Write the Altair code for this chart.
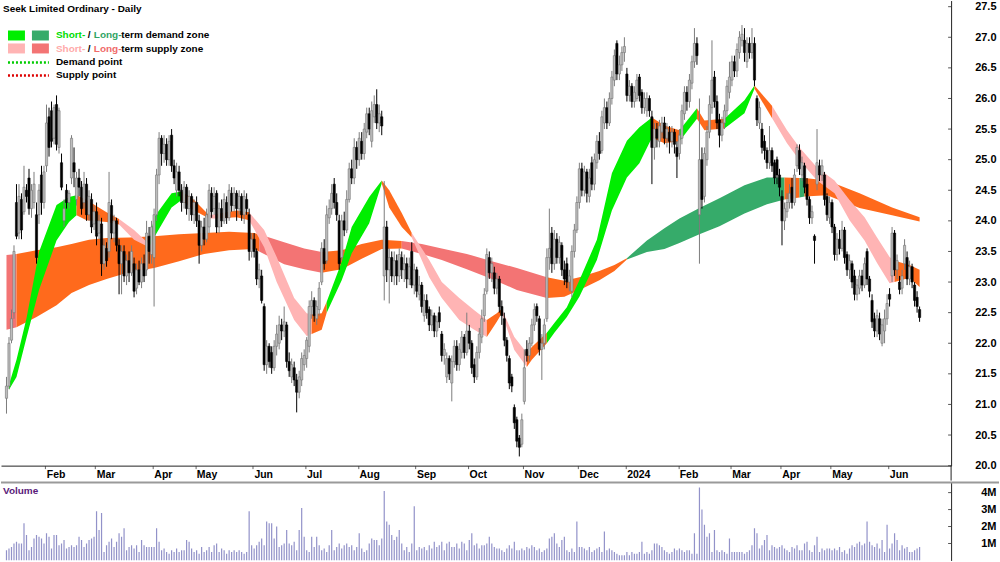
import altair as alt
import pandas as pd

# ---------------- daily candles (trading-day index 0..365, Jan 2023 - Jun 2024) ----------------
opens = [
    21.10, 21.30, 22.05, 22.50, 24.30, 23.80, 24.35, 24.15, 24.50, 24.70,
    24.20, 24.30, 24.10, 24.10, 24.75, 24.30, 24.90, 25.70, 25.80, 25.35,
    25.90, 25.20, 24.95, 24.00, 24.50, 24.30, 24.70, 24.95, 24.35, 24.70,
    24.55, 24.30, 24.60, 24.10, 24.35, 23.95, 24.15, 23.80, 23.95, 23.30,
    23.55, 23.50, 24.25, 23.80, 24.00, 23.60, 23.30, 23.50, 23.10, 23.35,
    23.15, 23.30, 22.90, 23.20, 23.00, 23.30, 23.20, 23.75, 23.45, 23.40,
    24.10, 24.75, 25.35, 25.10, 25.25, 25.00, 25.40, 24.90, 24.50, 24.80,
    24.50, 24.30, 24.55, 24.20, 24.40, 24.10, 24.30, 24.00, 23.60, 23.90,
    23.70, 23.90, 24.45, 24.20, 24.45, 23.90, 24.20, 24.00, 24.30, 24.05,
    24.45, 24.25, 24.45, 24.20, 24.40, 24.10, 24.35, 24.10, 23.50, 23.70,
    23.50, 23.05, 23.10, 22.60, 21.65, 21.95, 21.85, 21.60, 21.95, 22.00,
    22.30, 22.20, 22.30, 21.70, 21.45, 21.60, 21.40, 21.20, 21.40, 21.65,
    21.75, 21.95, 22.60, 22.70, 22.40, 22.55, 23.00, 23.55, 23.35, 24.05,
    24.20, 24.60, 24.30, 24.00, 23.40, 24.00, 23.85, 24.35, 24.85, 24.70,
    25.20, 25.00, 25.30, 25.10, 25.45, 25.75, 25.30, 25.70, 25.90, 25.60,
    25.70, 23.10, 23.90, 23.20, 23.40, 23.10, 23.35, 23.10, 23.40, 23.20,
    23.30, 23.05, 23.50, 22.95, 23.20, 22.80, 22.95, 22.45, 22.70, 22.55,
    22.30, 22.45, 22.20, 22.50, 22.15, 21.80, 21.45, 21.75, 21.35, 21.70,
    21.95, 21.65, 21.85, 22.10, 21.85, 22.20, 22.00, 21.65, 21.45, 21.85,
    22.10, 22.45, 22.85, 23.40, 23.15, 23.15, 22.90, 23.05, 22.60, 22.40,
    22.05, 21.75, 21.45, 20.95, 20.75, 20.45, 20.35, 21.05, 21.90, 21.80,
    22.00, 22.30, 22.60, 22.40, 21.90, 22.00, 22.40, 23.40, 23.80, 23.30,
    23.70, 23.40, 23.60, 23.20, 23.30, 23.00, 22.85, 23.50, 23.85, 24.30,
    24.85, 24.50, 24.80, 24.40, 24.95, 24.60, 24.95, 25.30, 25.15, 25.60,
    25.85, 25.60, 26.00, 26.30, 26.90, 26.40, 26.55, 26.75, 26.40, 26.05,
    26.20, 25.95, 26.00, 26.35, 26.10, 25.85, 25.80, 26.00, 25.70, 25.20,
    25.50, 25.30, 25.45, 25.60, 25.35, 25.45, 25.30, 25.45, 25.20, 25.10,
    25.35, 25.75, 26.10, 25.95, 26.25, 26.60, 26.90, 24.10, 25.00, 24.40,
    25.00, 25.45, 25.85, 26.35, 25.95, 25.65, 25.40, 25.60, 25.80, 26.10,
    26.30, 26.60, 26.45, 26.75, 26.95, 26.95, 26.60, 26.90, 26.75, 26.90,
    26.00, 25.60, 25.50, 25.30, 25.15, 24.95, 25.15, 24.95, 25.00, 24.75,
    24.40, 24.00, 24.15, 24.30, 24.55, 24.30, 24.90, 25.15, 24.75, 24.90,
    24.60, 24.35, 24.05, 23.75, 24.60, 24.90, 24.75, 24.75, 24.40, 24.05,
    24.30, 23.90, 23.45, 23.70, 23.55, 23.85, 23.45, 23.20, 23.30, 23.10,
    22.80, 22.90, 23.10, 22.95, 23.50, 23.05, 22.70, 22.40, 22.20, 22.40,
    22.00, 22.20, 22.40, 22.80, 23.10, 23.80, 23.20, 23.00, 22.90, 23.30,
    23.40, 23.05, 23.25, 22.95, 22.75, 22.55,
]
highs = [
    21.45, 22.10, 22.55, 23.60, 24.60, 24.60, 24.45, 24.90, 24.60, 24.85,
    24.60, 24.80, 24.30, 24.60, 24.90, 24.90, 25.90, 25.85, 25.95, 25.90,
    26.05, 25.85, 25.10, 24.35, 24.60, 24.50, 25.40, 25.20, 24.80, 24.85,
    24.65, 24.80, 24.70, 24.50, 24.45, 24.25, 24.30, 24.10, 24.05, 23.70,
    23.65, 24.80, 24.35, 24.10, 24.05, 23.70, 23.60, 23.60, 23.45, 23.50,
    23.60, 23.40, 23.30, 23.35, 23.40, 23.45, 24.00, 23.90, 24.00, 24.20,
    24.85, 25.45, 25.40, 25.40, 25.35, 25.40, 25.50, 25.00, 24.95, 24.90,
    24.60, 24.65, 24.60, 24.50, 24.45, 24.35, 24.40, 24.10, 24.00, 24.05,
    24.20, 24.60, 24.55, 24.55, 24.50, 24.30, 24.35, 24.45, 24.40, 24.60,
    24.55, 24.55, 24.50, 24.50, 24.45, 24.50, 24.45, 24.20, 23.80, 23.80,
    23.55, 23.30, 23.20, 22.65, 22.05, 22.00, 21.95, 22.05, 22.30, 22.45,
    22.40, 22.60, 22.35, 21.85, 21.75, 21.70, 21.50, 21.55, 21.85, 21.90,
    22.10, 22.70, 22.85, 22.75, 22.70, 23.00, 23.65, 23.70, 24.25, 24.35,
    24.60, 24.70, 24.45, 24.10, 24.10, 24.15, 24.50, 24.95, 25.00, 25.35,
    25.30, 25.45, 25.45, 25.60, 25.85, 25.85, 25.95, 26.05, 26.15, 25.90,
    25.80, 24.65, 24.00, 23.55, 23.50, 23.50, 23.45, 23.55, 23.50, 23.45,
    23.40, 23.40, 23.65, 23.30, 23.25, 23.10, 23.00, 22.80, 22.80, 22.60,
    22.55, 22.50, 22.45, 22.60, 22.20, 22.00, 21.85, 21.80, 21.80, 22.05,
    22.05, 22.00, 22.20, 22.15, 22.50, 22.30, 22.05, 21.75, 21.95, 22.25,
    22.55, 22.90, 23.55, 23.50, 23.40, 23.25, 23.15, 23.10, 22.70, 22.50,
    22.10, 21.80, 21.50, 21.00, 20.80, 20.50, 20.85, 21.90, 22.05, 22.10,
    22.40, 22.65, 22.65, 22.45, 22.15, 22.40, 23.55, 24.20, 23.90, 23.85,
    23.80, 23.75, 23.65, 23.35, 23.40, 23.20, 23.60, 23.95, 24.40, 24.95,
    24.95, 24.90, 24.85, 24.85, 25.05, 25.10, 25.40, 25.45, 25.80, 26.00,
    25.95, 26.10, 26.45, 26.80, 26.95, 26.70, 26.85, 27.00, 26.50, 26.30,
    26.25, 26.20, 26.40, 26.40, 26.15, 26.10, 26.10, 26.05, 25.80, 25.60,
    25.60, 25.65, 25.70, 25.70, 25.60, 25.55, 25.55, 25.50, 25.30, 25.50,
    25.90, 26.20, 26.20, 26.40, 26.70, 27.15, 27.00, 26.00, 25.20, 25.20,
    25.55, 26.05, 26.95, 26.45, 26.05, 25.75, 25.70, 25.90, 26.30, 26.60,
    26.70, 26.70, 26.90, 27.10, 27.20, 27.15, 27.00, 27.00, 27.15, 27.00,
    26.05, 25.95, 25.60, 25.40, 25.20, 25.55, 25.20, 25.00, 25.05, 24.85,
    24.50, 24.30, 24.45, 24.60, 24.70, 24.85, 25.25, 25.25, 25.05, 24.95,
    24.70, 24.40, 24.25, 23.78, 25.50, 25.00, 25.00, 24.80, 24.45, 24.40,
    24.35, 23.95, 23.80, 23.85, 24.00, 23.90, 23.50, 23.45, 23.35, 23.20,
    23.05, 23.20, 23.20, 23.40, 23.55, 23.10, 22.80, 22.50, 22.55, 22.50,
    22.40, 22.55, 22.80, 22.90, 23.90, 23.85, 23.45, 23.10, 23.20, 23.70,
    23.50, 23.35, 23.30, 23.00, 22.85, 22.60,
]
lows = [
    20.85, 21.25, 22.00, 22.40, 23.70, 23.70, 23.70, 24.10, 24.30, 24.10,
    24.05, 24.20, 23.30, 23.95, 24.10, 24.20, 24.80, 25.05, 25.20, 25.25,
    25.15, 25.10, 24.50, 23.90, 24.20, 24.20, 24.60, 24.55, 24.25, 24.40,
    24.10, 24.20, 24.00, 24.00, 23.80, 23.85, 23.60, 23.70, 23.10, 23.20,
    23.25, 23.40, 23.70, 23.65, 23.50, 22.80, 22.80, 23.00, 22.95, 23.00,
    23.10, 22.75, 22.80, 22.95, 22.90, 23.00, 23.10, 23.30, 23.30, 22.60,
    24.00, 24.60, 24.90, 24.95, 24.90, 24.90, 24.80, 24.60, 24.40, 24.40,
    24.15, 24.20, 24.10, 24.00, 24.00, 23.95, 23.90, 23.30, 23.50, 23.60,
    23.65, 23.80, 24.05, 24.10, 23.80, 23.80, 23.90, 23.95, 23.95, 24.00,
    24.15, 24.15, 24.00, 24.10, 24.00, 23.95, 24.10, 23.35, 23.40, 23.40,
    22.95, 22.90, 22.65, 21.55, 21.50, 21.60, 21.50, 21.55, 21.80, 21.90,
    22.05, 22.10, 21.60, 21.45, 21.35, 21.30, 20.87, 21.10, 21.30, 21.55,
    21.60, 21.85, 22.40, 22.35, 22.30, 22.45, 22.95, 23.20, 23.30, 23.95,
    24.10, 24.20, 24.00, 23.20, 23.35, 23.75, 23.80, 24.30, 24.60, 24.60,
    24.85, 24.90, 25.00, 25.00, 25.35, 25.40, 25.20, 25.60, 25.50, 25.45,
    25.40, 22.70, 23.00, 22.65, 23.00, 22.95, 22.95, 23.00, 23.05, 23.00,
    22.90, 22.95, 22.90, 22.80, 22.75, 22.70, 22.50, 22.35, 22.40, 22.20,
    22.20, 22.10, 22.10, 22.25, 21.70, 21.65, 21.35, 21.40, 21.05, 21.60,
    21.55, 21.55, 21.75, 21.75, 21.80, 21.90, 21.50, 21.35, 21.40, 21.75,
    22.00, 22.35, 22.80, 23.05, 23.00, 22.80, 22.80, 22.50, 22.30, 21.95,
    21.70, 21.25, 21.20, 20.60, 20.30, 20.15, 20.30, 21.00, 21.70, 21.70,
    21.95, 22.20, 22.35, 21.80, 21.40, 21.90, 22.35, 23.20, 23.15, 23.20,
    23.30, 23.30, 23.10, 22.95, 22.90, 22.85, 22.75, 23.40, 23.80, 24.20,
    24.40, 24.40, 24.30, 24.30, 24.50, 24.50, 24.85, 25.00, 25.10, 25.50,
    25.50, 25.55, 25.90, 26.20, 26.30, 26.30, 26.45, 26.60, 25.95, 25.95,
    25.85, 25.85, 25.95, 25.95, 25.75, 25.75, 25.70, 25.70, 24.60, 25.00,
    25.20, 25.20, 25.35, 25.25, 25.20, 25.10, 25.20, 25.10, 24.70, 25.00,
    25.25, 25.65, 25.80, 25.85, 26.15, 26.50, 26.55, 23.30, 24.20, 24.30,
    24.90, 25.35, 25.75, 25.85, 25.50, 25.20, 25.30, 25.50, 25.70, 26.00,
    26.20, 26.35, 26.35, 26.65, 26.85, 26.60, 26.50, 26.65, 26.65, 26.20,
    25.55, 25.50, 25.10, 25.00, 24.85, 24.85, 24.80, 24.60, 24.60, 24.40,
    23.60, 23.85, 24.05, 24.20, 24.20, 24.25, 24.80, 24.75, 24.65, 24.45,
    24.25, 23.95, 23.95, 23.30, 24.50, 24.65, 24.65, 24.25, 24.00, 23.95,
    23.80, 23.35, 23.35, 23.45, 23.50, 23.30, 23.10, 23.05, 22.90, 22.70,
    22.70, 22.80, 22.85, 22.90, 22.95, 22.75, 22.25, 22.10, 22.10, 22.05,
    21.95, 22.00, 22.30, 22.60, 23.00, 23.10, 23.05, 22.80, 22.80, 23.20,
    22.95, 22.95, 22.90, 22.60, 22.50, 22.35,
]
closes = [
    21.30, 22.00, 22.40, 23.50, 23.75, 24.40, 23.85, 24.55, 24.40, 24.20,
    24.50, 24.60, 23.40, 24.50, 24.30, 24.80, 25.60, 25.20, 25.30, 25.85,
    25.25, 25.80, 24.55, 24.20, 24.30, 24.45, 25.35, 24.80, 24.70, 24.55,
    24.20, 24.60, 24.10, 24.40, 23.90, 24.15, 23.75, 24.00, 23.30, 23.60,
    23.35, 24.30, 23.80, 24.00, 23.60, 23.30, 23.50, 23.10, 23.35, 23.15,
    23.50, 22.85, 23.20, 23.00, 23.30, 23.10, 23.80, 23.50, 23.90, 24.10,
    24.75, 25.35, 25.10, 25.25, 25.00, 25.30, 24.90, 24.70, 24.80, 24.50,
    24.30, 24.55, 24.20, 24.40, 24.10, 24.30, 24.00, 23.60, 23.90, 23.70,
    24.10, 24.50, 24.15, 24.40, 23.90, 24.20, 24.00, 24.35, 24.05, 24.50,
    24.25, 24.45, 24.20, 24.40, 24.10, 24.40, 24.20, 23.50, 23.70, 23.50,
    23.05, 23.20, 22.70, 21.65, 21.95, 21.70, 21.60, 21.95, 22.15, 22.30,
    22.20, 22.35, 21.70, 21.55, 21.65, 21.40, 21.20, 21.45, 21.75, 21.80,
    22.05, 22.60, 22.70, 22.45, 22.60, 22.90, 23.55, 23.30, 24.10, 24.20,
    24.45, 24.30, 24.10, 23.30, 24.00, 23.85, 24.35, 24.85, 24.70, 25.20,
    25.00, 25.35, 25.10, 25.50, 25.75, 25.50, 25.80, 25.90, 25.60, 25.75,
    25.55, 23.90, 23.20, 23.40, 23.10, 23.35, 23.10, 23.45, 23.20, 23.30,
    23.05, 23.25, 22.95, 23.20, 22.85, 22.95, 22.60, 22.70, 22.50, 22.30,
    22.45, 22.20, 22.35, 22.35, 21.80, 21.90, 21.75, 21.50, 21.70, 21.95,
    21.65, 21.90, 22.10, 21.85, 22.20, 22.00, 21.60, 21.45, 21.85, 22.15,
    22.40, 22.80, 23.45, 23.15, 23.30, 22.90, 23.05, 22.60, 22.45, 22.05,
    21.80, 21.35, 21.30, 20.70, 20.40, 20.30, 20.75, 21.60, 21.80, 22.00,
    22.30, 22.55, 22.45, 21.90, 22.00, 22.30, 23.40, 23.55, 23.30, 23.70,
    23.40, 23.65, 23.20, 23.05, 23.00, 23.10, 23.50, 23.85, 24.30, 24.85,
    24.50, 24.80, 24.45, 24.70, 24.60, 25.00, 25.30, 25.10, 25.70, 25.85,
    25.60, 26.00, 26.35, 26.70, 26.40, 26.55, 26.75, 26.85, 26.05, 26.20,
    25.95, 26.10, 26.30, 26.05, 25.85, 26.00, 26.00, 25.80, 25.20, 25.50,
    25.35, 25.55, 25.60, 25.35, 25.50, 25.30, 25.45, 25.25, 25.05, 25.40,
    25.80, 26.10, 25.95, 26.30, 26.60, 26.90, 26.70, 25.00, 24.35, 25.10,
    25.45, 25.90, 26.30, 25.95, 25.60, 25.40, 25.60, 25.80, 26.20, 26.35,
    26.60, 26.45, 26.80, 27.00, 27.05, 26.75, 26.90, 26.75, 26.90, 26.30,
    25.65, 25.85, 25.20, 25.15, 24.95, 25.15, 24.90, 24.70, 24.75, 24.55,
    24.00, 24.20, 24.30, 24.45, 24.30, 24.75, 25.20, 24.85, 24.95, 24.55,
    24.35, 24.05, 24.15, 23.68, 24.95, 24.75, 24.90, 24.35, 24.10, 24.30,
    23.90, 23.45, 23.70, 23.55, 23.85, 23.40, 23.20, 23.35, 23.00, 22.80,
    22.95, 23.10, 22.95, 23.30, 23.05, 22.85, 22.35, 22.20, 22.45, 22.15,
    22.30, 22.40, 22.65, 22.72, 23.80, 23.20, 23.35, 22.88, 23.10, 23.60,
    23.05, 23.25, 23.00, 22.70, 22.60, 22.42,
]
volumes_m = [
    0.6, 0.7, 0.8, 1.0, 1.1, 1.0, 1.0, 2.2, 1.5, 0.6,
    0.8, 1.3, 1.5, 1.4, 1.3, 1.0, 1.6, 1.4, 0.7, 1.5,
    1.5, 0.9, 1.0, 1.2, 0.7, 0.8, 0.9, 0.8, 0.9, 1.4,
    1.2, 0.8, 1.0, 1.2, 1.3, 1.4, 2.9, 1.8, 2.8, 0.5,
    0.9, 1.1, 1.3, 0.8, 1.1, 1.6, 1.4, 1.9, 0.6, 0.8,
    0.9, 0.7, 0.9, 0.5, 1.2, 0.9, 0.8, 0.8, 0.8, 0.8,
    1.9, 1.1, 0.6, 0.7, 0.5, 0.4, 0.6, 0.5, 0.7, 0.5,
    0.6, 0.6, 1.2, 1.1, 0.7, 0.5, 0.6, 0.4, 0.8, 0.5,
    0.6, 0.8, 0.5, 0.9, 1.0, 0.5, 0.7, 0.6, 0.4, 0.6,
    0.5, 0.6, 0.5, 0.6, 0.5, 0.4, 0.5, 2.9, 0.9, 0.7,
    0.9, 1.1, 1.3, 0.9, 2.3, 2.2, 2.2, 1.3, 2.0, 0.8,
    0.9, 1.0, 1.8, 1.0, 0.9, 1.1, 0.6, 1.8, 3.1, 1.4,
    0.6, 0.5, 1.4, 0.8, 1.4, 0.9, 0.6, 0.7, 0.5, 0.9,
    1.8, 0.6, 0.8, 1.0, 0.7, 0.9, 1.0, 0.8, 0.9, 0.6,
    0.8, 1.6, 0.7, 0.5, 0.6, 1.0, 1.3, 1.2, 1.2, 0.9,
    1.3, 4.1, 2.3, 2.1, 1.5, 1.2, 1.4, 1.8, 1.0, 0.6,
    0.8, 0.5, 1.0, 3.2, 0.6, 0.8, 0.7, 0.8, 0.6, 0.9,
    0.7, 1.1, 0.8, 0.9, 1.1, 0.6, 1.0, 1.1, 0.8, 0.8,
    1.0, 0.7, 1.1, 1.0, 0.6, 1.2, 1.6, 0.9, 1.0, 0.7,
    0.9, 0.9, 1.0, 1.4, 1.0, 0.8, 0.7, 0.7, 0.6, 0.5,
    0.7, 0.9, 0.7, 1.1, 0.6, 0.6, 0.7, 0.6, 0.8, 0.7,
    0.9, 0.8, 0.6, 0.7, 0.5, 0.6, 0.7, 1.3, 1.4, 1.6,
    1.0, 0.8, 1.2, 1.4, 0.6, 0.5, 0.7, 0.5, 2.3, 0.8,
    0.8, 0.7, 0.6, 0.8, 0.5, 0.6, 0.7, 0.8, 0.5, 1.7,
    0.6, 0.7, 0.6, 0.5, 0.4, 0.3, 0.3, 0.3, 0.5, 0.3,
    0.5, 0.4, 0.4, 0.5, 1.1, 0.4, 0.5, 0.4, 0.6, 1.0,
    1.0, 0.9, 0.8, 0.6, 0.5, 0.4, 0.5, 0.7, 0.6, 0.7,
    0.6, 0.5, 0.6, 0.6, 0.4, 1.6, 0.4, 4.3, 3.0, 2.1,
    1.4, 1.6, 0.5, 1.8, 0.6, 0.5, 0.6, 0.5, 0.4, 1.3,
    0.5, 0.5, 0.5, 0.5, 0.5, 0.4, 0.5, 0.6, 0.9, 1.9,
    1.6, 0.7, 0.9, 1.2, 1.5, 0.6, 0.9, 0.8, 0.7, 0.8,
    0.9, 0.7, 0.6, 0.5, 0.8, 0.7, 0.9, 0.6, 0.6, 1.0,
    1.1, 0.6, 0.5, 0.9, 1.4, 0.5, 0.7, 0.6, 0.7, 0.7,
    0.6, 0.7, 0.6, 0.8, 0.5, 0.6, 0.4, 0.7, 0.9, 0.8,
    1.0, 1.1, 0.9, 1.0, 2.3, 1.1, 0.9, 0.8, 1.0, 0.7,
    1.2, 0.5, 2.1, 0.7, 1.0, 1.6, 1.2, 0.6, 0.9, 0.7,
    0.8, 0.5, 0.5, 0.6, 0.7, 0.8,
]

# first trading day of each month (index) and its label
month_starts = [16, 36, 59, 76, 99, 120, 141, 164, 185, 207, 229, 248, 269, 290, 310, 330, 353]
month_labels = ["Feb", "Mar", "Apr", "May", "Jun", "Jul", "Aug", "Sep", "Oct", "Nov",
                "Dec", "2024", "Feb", "Mar", "Apr", "May", "Jun"]

# ---------------- zones (ribbons) ----------------
st_days = [1, 4, 8, 13, 20, 25, 28, 32, 40, 45, 51, 57, 59, 66, 70, 75, 81, 84, 92, 97,
           103, 108, 115, 120, 122, 126, 128, 134, 138, 145, 150, 153, 158, 162, 169, 174, 181, 187, 192, 196,
           198, 203, 208, 210, 216, 219, 224, 229, 236, 242, 248, 253, 258, 263, 269, 276, 279, 287, 295, 299,
           306, 312, 317, 324, 331, 337, 343, 348, 353, 355, 361, 365]
st_hi = [21.32, 21.73, 22.41, 23.49, 24.26, 24.39, 24.42, 24.34, 24.14, 24.03, 23.85, 23.62, 24.06, 24.45, 24.48, 24.34, 24.09, 24.11, 24.17, 24.14,
         23.85, 23.41, 22.74, 22.49, 22.47, 22.49, 22.68, 23.33, 23.90, 24.39, 24.66, 24.50, 24.13, 23.80, 23.36, 23.00, 22.74, 22.54, 22.38, 22.49,
         22.56, 22.10, 21.84, 21.94, 22.17, 22.33, 22.59, 23.03, 23.69, 24.78, 25.31, 25.53, 25.69, 25.56, 25.48, 25.84, 25.64, 25.67, 25.97, 26.21,
         25.88, 25.48, 25.20, 24.87, 24.66, 24.34, 24.06, 23.73, 23.41, 23.35, 23.28, 23.20]
st_lo = [21.24, 21.45, 22.09, 22.87, 23.68, 23.98, 24.09, 24.01, 23.98, 23.94, 23.69, 23.57, 23.73, 24.22, 24.34, 24.17, 24.04, 24.04, 24.06, 24.01,
         23.57, 23.00, 22.38, 22.12, 22.15, 22.22, 22.50, 23.03, 23.47, 23.96, 24.61, 24.22, 23.90, 23.73, 23.08, 22.74, 22.38, 22.22, 22.10, 22.35,
         22.49, 21.89, 21.61, 21.73, 22.00, 22.17, 22.43, 22.76, 23.36, 24.17, 24.71, 24.94, 25.36, 25.27, 25.30, 25.67, 25.48, 25.51, 25.76, 26.16,
         25.68, 25.27, 24.99, 24.66, 24.45, 24.01, 23.68, 23.31, 22.98, 23.00, 23.07, 22.92]
st_change_days = [1, 28, 45, 57, 70, 81, 84, 97, 122, 128, 150, 162, 192, 198, 208, 216, 258, 269, 276, 287, 299, 306, 355]
st_change_states = ["sd", "n", "ss", "sd", "n", "ss", "n", "ss", "n", "sd", "n", "ss", "n", "ss", "n", "sd", "n", "sd", "n", "sd", "n", "ss", "n"]

lt_days = [0, 4, 12, 20, 26, 33, 40, 49, 59, 69, 79, 89, 99, 101, 111, 119, 126, 134, 142, 150,
           158, 166, 174, 184, 194, 204, 216, 223, 229, 237, 243, 248, 256, 263, 269, 277, 285, 295, 304, 311,
           317, 319, 328, 341, 354, 365]
lt_hi = [23.44, 23.46, 23.52, 23.57, 23.62, 23.69, 23.72, 23.73, 23.75, 23.78, 23.80, 23.82, 23.80, 23.78, 23.65, 23.55, 23.49, 23.52, 23.62, 23.69,
         23.67, 23.62, 23.55, 23.46, 23.34, 23.23, 23.08, 23.02, 23.08, 23.18, 23.28, 23.39, 23.68, 23.88, 24.04, 24.21, 24.37, 24.58, 24.71, 24.71,
         24.70, 24.70, 24.66, 24.45, 24.22, 24.06]
lt_lo = [22.22, 22.26, 22.43, 22.62, 22.82, 22.95, 23.05, 23.16, 23.23, 23.34, 23.46, 23.52, 23.54, 23.50, 23.29, 23.21, 23.15, 23.21, 23.38, 23.54,
         23.55, 23.46, 23.36, 23.21, 23.05, 22.87, 22.74, 22.76, 22.87, 23.03, 23.18, 23.37, 23.49, 23.54, 23.64, 23.78, 23.91, 24.12, 24.27, 24.35,
         24.38, 24.40, 24.42, 24.21, 24.09, 23.99]
lt_change_days = [0, 4, 101, 126, 158, 216, 248, 311, 317, 319]
lt_change_states = ["ls", "n", "ls", "n", "ls", "n", "ld", "n", "ld", "n"]

price_ticks = [20.0, 20.5, 21.0, 21.5, 22.0, 22.5, 23.0, 23.5, 24.0, 24.5, 25.0, 25.5, 26.0, 26.5, 27.0, 27.5]
volume_ticks = [1, 2, 3, 4]

ZONE_COLORS = {"sd": "#00ee00", "ld": "#36ab6a", "ss": "#ffb4b4", "ls": "#f37474", "n": "#ff6a1c"}

N = len(closes)
assert all(len(a) == N for a in (opens, highs, lows, volumes_m)), [len(a) for a in (opens, highs, lows, closes, volumes_m)]
assert len(st_days) == len(st_hi) == len(st_lo), (len(st_days), len(st_hi), len(st_lo))
assert len(lt_days) == len(lt_hi) == len(lt_lo), (len(lt_days), len(lt_hi), len(lt_lo))

FONT = "Liberation Sans"
NO_VIEW = alt.ViewBackground(stroke="transparent", strokeWidth=0, fill="#ffffff")

candles = pd.DataFrame({"d": list(range(N)), "o": opens, "h": highs, "l": lows, "c": closes})
candles["h"] = candles[["h", "o", "c"]].max(axis=1)
candles["l"] = candles[["l", "o", "c"]].min(axis=1)
up = candles["c"] >= candles["o"]
candles["body"] = up.map({True: "#bdbdbd", False: "#000000"})
candles["edge"] = up.map({True: "#747474", False: "#000000"})
candles["wick"] = up.map({True: "#7c7c7c", False: "#000000"})

vol = pd.DataFrame({"d": list(range(N)), "v": volumes_m})


def ribbon_rows(days, hi, lo, cdays, cstates, name):
    changes = dict(zip(cdays, cstates))
    rows, state, seg = [], None, -1
    for d, h, l in zip(days, hi, lo):
        if d in changes and changes[d] != state:
            if seg >= 0:
                rows.append(dict(d=d, hi=h, lo=l, seg=f"{name}{seg}", col=ZONE_COLORS[state]))
            state = changes[d]
            seg += 1
        rows.append(dict(d=d, hi=h, lo=l, seg=f"{name}{seg}", col=ZONE_COLORS[state]))
    return pd.DataFrame(rows)


lt_df = ribbon_rows(lt_days, lt_hi, lt_lo, lt_change_days, lt_change_states, "lt")
st_df = ribbon_rows(st_days, st_hi, st_lo, st_change_days, st_change_states, "st")

xs = alt.Scale(domain=[-0.2, 375.6], nice=False, zero=False)
ys = alt.Scale(domain=[20.0, 27.6], nice=False, zero=False)
vs = alt.Scale(domain=[0, 4.65], nice=False)

tick_vals = [m - 0.5 for m in month_starts]
label_expr = " : ".join(f"datum.value == {v} ? '{t}'" for v, t in zip(tick_vals, month_labels)) + " : ''"

xaxis = alt.Axis(values=tick_vals, labelExpr=label_expr, orient="bottom", grid=False,
                 domain=True, domainColor="#222222", domainWidth=1,
                 ticks=True, tickSize=3, tickColor="#666666",
                 labelAlign="left", labelOffset=1, labelPadding=1, labelBaseline="top",
                 labelFont=FONT, labelFontWeight="bold", labelFontSize=10.5, labelColor="#000000",
                 labelFlush=False, labelOverlap=False, title=None)
yaxis = alt.Axis(orient="right", values=price_ticks, format=".1f", grid=False,
                 domain=True, domainColor="#222222", ticks=False,
                 labelAlign="right", labelPadding=45, labelFont=FONT, labelFontWeight="bold",
                 labelFontSize=11, labelColor="#000000", labelOverlap=False, labelFlush=False, title=None)

X = alt.X("d:Q", scale=xs, axis=xaxis)


def ribbon_layer(df):
    return alt.Chart(df).mark_area(interpolate="linear", clip=True).encode(
        x=X,
        y=alt.Y("hi:Q", scale=ys, axis=yaxis),
        y2="lo:Q",
        detail="seg:N",
        fill=alt.Fill("col:N", scale=None),
    )


wicks = alt.Chart(candles).mark_rule(strokeWidth=1, clip=True).encode(
    x=X, y=alt.Y("l:Q", scale=ys, axis=yaxis), y2="h:Q",
    color=alt.Color("wick:N", scale=None),
)
bodies = alt.Chart(candles).mark_bar(width=2.2, strokeWidth=0.6, clip=True).encode(
    x=X, y=alt.Y("o:Q", scale=ys, axis=yaxis), y2="c:Q",
    fill=alt.Fill("body:N", scale=None), stroke=alt.Stroke("edge:N", scale=None),
)
# small inward ticks on the right price axis
price_tick_marks = alt.Chart(pd.DataFrame({"p": price_ticks})).mark_rule(color="#555555", strokeWidth=1).encode(
    x=alt.value(949), x2=alt.value(952), y=alt.Y("p:Q", scale=ys, axis=yaxis))

# ---------------- legend / title (layout, pixel positions) ----------------
legend_txt = pd.DataFrame([
    dict(px=2, py=8, txt="Seek Limited Ordinary - Daily", col="#000000"),
    dict(px=55, py=35, txt="Short-", col="#00dd00"),
    dict(px=87, py=35, txt="/", col="#000000"),
    dict(px=93, py=35, txt="Long-", col="#2fa464"),
    dict(px=120.5, py=35, txt="term demand zone", col="#000000"),
    dict(px=55, py=48.5, txt="Short-", col="#ffaaaa"),
    dict(px=87, py=48.5, txt="/", col="#000000"),
    dict(px=93, py=48.5, txt="Long-", col="#f06a6a"),
    dict(px=120.5, py=48.5, txt="term supply zone", col="#000000"),
    dict(px=55, py=62, txt="Demand point", col="#000000"),
    dict(px=55, py=75, txt="Supply point", col="#000000"),
])
legend_rect = pd.DataFrame([
    dict(x=7, x2=24, y=30, y2=40, col=ZONE_COLORS["sd"]),
    dict(x=31, x2=48, y=30, y2=40, col=ZONE_COLORS["ld"]),
    dict(x=7, x2=24, y=43, y2=53, col=ZONE_COLORS["ss"]),
    dict(x=31, x2=48, y=43, y2=53, col=ZONE_COLORS["ls"]),
])
legend_line = pd.DataFrame([
    dict(x=7, x2=48, y=62, col="#00cc00"),
    dict(x=7, x2=48, y=75, col="#dd0000"),
])

txt_layer = alt.Chart(legend_txt).mark_text(align="left", baseline="middle", font=FONT,
                                            fontSize=10, fontWeight="bold").encode(
    x=alt.X("px:Q", scale=None, axis=None), y=alt.Y("py:Q", scale=None, axis=None),
    text="txt:N", fill=alt.Fill("col:N", scale=None),
)
rect_layer = alt.Chart(legend_rect).mark_rect().encode(
    x=alt.X("x:Q", scale=None, axis=None), x2="x2:Q",
    y=alt.Y("y:Q", scale=None, axis=None), y2="y2:Q",
    fill=alt.Fill("col:N", scale=None),
)
line_layer = alt.Chart(legend_line).mark_rule(strokeWidth=2.5, strokeDash=[2, 2]).encode(
    x=alt.X("x:Q", scale=None, axis=None), x2="x2:Q",
    y=alt.Y("y:Q", scale=None, axis=None),
    color=alt.Color("col:N", scale=None),
)
one = pd.DataFrame({"k": [0]})
# right axis line continued through the month-label strip
vline_top = alt.Chart(one).mark_rule(color="#222222", strokeWidth=1).encode(
    x=alt.value(952), y=alt.value(466), y2=alt.value(481))

top = alt.layer(ribbon_layer(lt_df), ribbon_layer(st_df), wicks, bodies, price_tick_marks,
                rect_layer, line_layer, txt_layer, vline_top).properties(width=952, height=466, view=NO_VIEW)

# ---------------- volume panel ----------------
vaxis = alt.Axis(orient="right", values=volume_ticks, labelExpr="datum.value + 'M'", grid=False,
                 domain=True, domainColor="#222222", ticks=False,
                 labelAlign="right", labelPadding=45, labelFont=FONT, labelFontWeight="bold",
                 labelFontSize=11, labelColor="#000000", labelOverlap=False, labelFlush=False, title=None)
vol_bars = alt.Chart(vol).mark_bar(width=1.2, color="#9292c9", clip=True).encode(
    x=alt.X("d:Q", scale=xs, axis=None),
    y=alt.Y("v:Q", scale=vs, axis=vaxis),
)
vol_tick_marks = alt.Chart(pd.DataFrame({"v": volume_ticks})).mark_rule(color="#555555", strokeWidth=1).encode(
    x=alt.value(949), x2=alt.value(952), y=alt.Y("v:Q", scale=vs, axis=vaxis))
sep = alt.Chart(one).mark_rule(color="#9a9a9a", strokeWidth=2).encode(
    x=alt.value(0), x2=alt.value(1000), y=alt.value(1))
vol_label = alt.Chart(one).mark_text(align="left", baseline="middle", font=FONT, fontSize=10,
                                     fontWeight="bold", color="#5a1a7a").encode(
    x=alt.value(2), y=alt.value(9), text=alt.value("Volume"))

bottom = alt.layer(vol_bars, vol_tick_marks, sep, vol_label).properties(width=952, height=79, view=NO_VIEW)

chart = alt.vconcat(top, bottom, spacing=0).resolve_scale(y="independent").properties(
    padding={"left": 0, "right": 0, "top": 0, "bottom": 0}
).configure(
    background="#ffffff",
    style={"cell": {"stroke": "transparent", "strokeWidth": 0}},
).configure_view(stroke="transparent", strokeWidth=0)

chart.save("out.html", embed_options={"renderer": "svg", "actions": False})
